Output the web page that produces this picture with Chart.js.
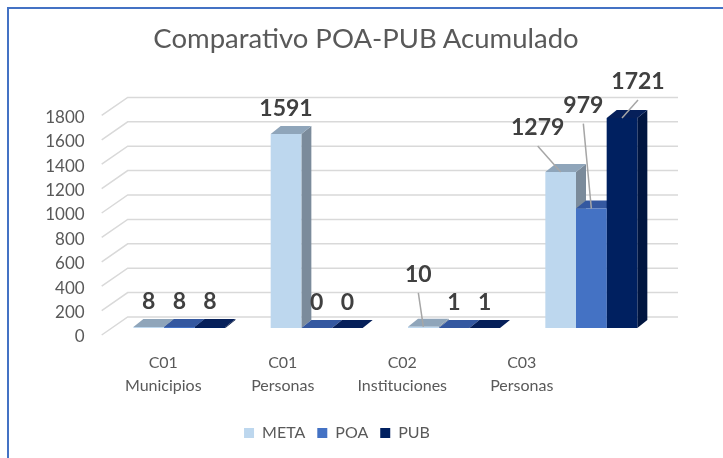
<!DOCTYPE html>
<html>
<head>
<meta charset="utf-8">
<script src="https://cdn.jsdelivr.net/npm/chart.js@4.4.1/dist/chart.umd.min.js"></script>
<style>
  html, body { margin: 0; padding: 0; background: #fff; overflow: hidden; }
  #wrap { position: relative; width: 723px; height: 458px; }
  #frame {
    position: absolute; left: 7px; top: 7px; right: -10px; bottom: -10px;
    border-top: 2px solid #4472C4; border-left: 2px solid #4472C4;
    pointer-events: none;
  }
  #title {
    position: absolute; left: 0; top: 21px; width: 732px;
    text-align: center; font-family: Lato, sans-serif; font-size: 27.5px;
    line-height: 34px; color: #595959;
  }
</style>
</head>
<body>
<div id="wrap">
  <canvas id="chart" width="723" height="458"></canvas>
  <div id="title">Comparativo POA-PUB Acumulado</div>
  <div id="frame"></div>
</div>
<script>
// chart values
const categories = ['C01 Municipios', 'C01 Personas', 'C02 Instituciones', 'C03 Personas'];
const seriesNames = ['META', 'POA', 'PUB'];
const metaValues = [8, 1591, 10, 1279];
const poaValues = [8, 0, 1, 979];
const pubValues = [8, 0, 1, 1721];
const yTickValues = [0, 200, 400, 600, 800, 1000, 1200, 1400, 1600, 1800];

// styles
const frontColors = ['#BDD7EE', '#4472C4', '#002060'];
const topColors = ['#8FA5BA', '#3458A0', '#06205A'];
const sideColors = ['#7B8B9B', '#2F5090', '#001540'];
const depth = { dx: 10, dy: -8 };
// labels that Excel moved away from their bars (dataset-category: [dx, dy])
const labelNudges = { '0-2': [-5, -27], '0-3': [-23, -19], '1-3': [-8, -78], '2-3': [16, -11] };

const FONT = 'Lato';

// 3D faces + back wall gridlines, drawn under the front faces
const depthPlugin = {
  id: 'depth',
  beforeDatasetsDraw(chart) {
    const ctx = chart.ctx;
    const y = chart.scales.y;
    const area = chart.chartArea;
    ctx.save();
    ctx.strokeStyle = '#D9D9D9';
    ctx.lineWidth = 1.5;
    yTickValues.forEach(v => {
      const py = y.getPixelForValue(v);
      ctx.beginPath();
      ctx.moveTo(area.left - 9, py + 7);
      ctx.lineTo(area.left + 17, py - 11);
      ctx.lineTo(area.right + 18, py - 11);
      ctx.stroke();
    });
    for (let i = 0; i < categories.length; i++) {
      chart.data.datasets.forEach((ds, d) => {
        const el = chart.getDatasetMeta(d).data[i];
        const { x, y: top, base, width } = el.getProps(['x', 'y', 'base', 'width'], true);
        const l = x - width / 2, r = x + width / 2;
        ctx.fillStyle = sideColors[d];
        ctx.beginPath();
        ctx.moveTo(r, top);
        ctx.lineTo(r + depth.dx, top + depth.dy);
        ctx.lineTo(r + depth.dx, base + depth.dy);
        ctx.lineTo(r, base);
        ctx.closePath();
        ctx.fill();
        ctx.fillStyle = topColors[d];
        ctx.beginPath();
        ctx.moveTo(l, top);
        ctx.lineTo(r, top);
        ctx.lineTo(r + depth.dx, top + depth.dy);
        ctx.lineTo(l + depth.dx, top + depth.dy);
        ctx.closePath();
        ctx.fill();
      });
    }
    ctx.restore();
  },
  afterDatasetsDraw(chart) {
    const ctx = chart.ctx;
    ctx.save();
    ctx.font = 'bold 23px ' + FONT;
    ctx.textAlign = 'center';
    ctx.textBaseline = 'middle';
    chart.data.datasets.forEach((ds, d) => {
      chart.getDatasetMeta(d).data.forEach((el, i) => {
        const nudge = labelNudges[d + '-' + i];
        let lx = el.x, ly = el.y - 25;
        if (nudge) {
          lx += nudge[0];
          ly += nudge[1];
          ctx.strokeStyle = '#A6A6A6';
          ctx.lineWidth = 1.5;
          ctx.beginPath();
          ctx.moveTo(lx, ly + 18);
          ctx.lineTo(el.x, el.y);
          ctx.stroke();
        }
        ctx.fillStyle = '#404040';
        ctx.fillText(String(ds.data[i]), lx, ly);
      });
    });
    ctx.restore();
  }
};

const makeSet = (label, values, d) => ({
  label: label,
  data: values,
  backgroundColor: frontColors[d],
  borderWidth: 0,
  xAxisID: 'x',
  yAxisID: 'y'
});

new Chart(document.getElementById('chart'), {
  type: 'bar',
  data: {
    labels: categories,
    datasets: [
      makeSet(seriesNames[0], metaValues, 0),
      makeSet(seriesNames[1], poaValues, 1),
      makeSet(seriesNames[2], pubValues, 2)
    ]
  },
  options: {
    responsive: false,
    animation: false,
    categoryPercentage: 0.67,
    barPercentage: 1,
    layout: { padding: { left: 14, right: 63, top: 108.4, bottom: 7 } },
    scales: {
      x: { display: false, offset: true },
      xLabels: {
        type: 'linear',
        position: 'bottom',
        offset: false,
        min: -0.44,
        max: 4.157,
        afterBuildTicks: axis => { axis.ticks = categories.map((c, i) => ({ value: i })); },
        afterFit: axis => { axis.height = 85; },
        grid: { display: false, drawTicks: false, offset: false },
        border: { display: false },
        ticks: {
          padding: 24,
          font: { family: FONT, size: 16, lineHeight: 1.4 },
          color: '#595959',
          maxRotation: 0,
          autoSkip: false,
          callback: v => categories[v] ? categories[v].split(' ') : ''
        }
      },
      y: {
        min: 0,
        max: 1800,
        afterBuildTicks: axis => { axis.ticks = yTickValues.map(v => ({ value: v })); },
        afterFit: axis => { axis.width = 96.7; },
        grid: { display: false, drawTicks: false },
        border: { display: false },
        ticks: {
          padding: 26,
          labelOffset: 9,
          font: { family: FONT, size: 17 },
          color: '#595959',
          callback: v => String(v)
        }
      }
    },
    plugins: {
      title: { display: false },
      legend: {
        position: 'bottom',
        labels: {
          boxWidth: 10,
          boxHeight: 10,
          padding: 12,
          color: '#595959',
          font: { family: FONT, size: 16 }
        }
      },
      tooltip: { enabled: false }
    }
  },
  plugins: [depthPlugin]
});
</script>
</body>
</html>
